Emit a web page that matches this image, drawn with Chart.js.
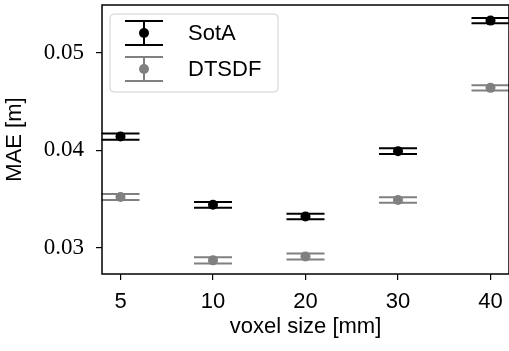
<!DOCTYPE html>
<html>
<head>
<meta charset="utf-8">
<script src="https://cdn.jsdelivr.net/npm/chart.js@4.4.1/dist/chart.umd.min.js"></script>
<style>
    html, body { margin: 0; padding: 0; background: #fff; overflow: hidden; }
    #wrap { width: 514px; height: 351px; }
</style>
</head>
<body>
<div id="wrap"><canvas id="maeChart" width="514" height="351"></canvas></div>
<script>
// voxel sizes on the x axis
const voxelSizes = ["5", "10", "20", "30", "40"];
const yTicks = [0.03, 0.04, 0.05];

// mean absolute error per voxel size
const sotaMae = [0.0414, 0.0344, 0.0332, 0.0399, 0.0533];
const sotaErr = [0.00032, 0.0003, 0.00028, 0.0003, 0.00026];
const dtsdfMae = [0.0352, 0.0287, 0.0291, 0.0349, 0.0464];
const dtsdfErr = [0.0003, 0.00032, 0.0003, 0.00028, 0.00026];

const SOTA_COLOR = "#000000";
const DTSDF_COLOR = "#808080";
const SANS = "'Liberation Sans'";

// error bars + caps, drawn under the markers
const errorBars = {
    id: "errorBars",
    beforeDatasetsDraw(chart) {
        const ctx = chart.ctx;
        const xs = chart.scales.x, ys = chart.scales.y;
        chart.data.datasets.forEach(ds => {
            ctx.save();
            ctx.strokeStyle = ds.borderColor;
            ctx.lineWidth = 2;
            ds.data.forEach((p, i) => {
                const x = xs.getPixelForValue(p.x);
                const yHi = ys.getPixelForValue(p.y + ds.errors[i]);
                const yLo = ys.getPixelForValue(p.y - ds.errors[i]);
                ctx.beginPath();
                ctx.moveTo(x, yHi); ctx.lineTo(x, yLo);
                ctx.moveTo(x - 19, yHi); ctx.lineTo(x + 19, yHi);
                ctx.moveTo(x - 19, yLo); ctx.lineTo(x + 19, yLo);
                ctx.stroke();
            });
            ctx.restore();
        });
    },
    afterDraw(chart) {
        const ctx = chart.ctx;
        const a = chart.chartArea;
        ctx.save();
        // spines
        ctx.strokeStyle = "#000";
        ctx.lineWidth = 1.5;
        ctx.strokeRect(a.left, a.top, a.right - a.left, a.bottom - a.top);

        // legend box
        const bx = 110, by = 14, bw = 168, bh = 78, r = 4;
        ctx.beginPath();
        ctx.roundRect(bx, by, bw, bh, r);
        ctx.fillStyle = "rgba(255,255,255,0.8)";
        ctx.fill();
        ctx.strokeStyle = "#d0d0d0";
        ctx.lineWidth = 1;
        ctx.stroke();

        const items = [
            { label: "SotA", color: SOTA_COLOR, y: 33 },
            { label: "DTSDF", color: DTSDF_COLOR, y: 69 }
        ];
        items.forEach(it => {
            const cx = 144;
            ctx.strokeStyle = it.color;
            ctx.lineWidth = 2;
            ctx.beginPath();
            ctx.moveTo(cx, it.y - 12); ctx.lineTo(cx, it.y + 12);
            ctx.moveTo(cx - 19, it.y - 12); ctx.lineTo(cx + 19, it.y - 12);
            ctx.moveTo(cx - 19, it.y + 12); ctx.lineTo(cx + 19, it.y + 12);
            ctx.stroke();
            ctx.beginPath();
            ctx.arc(cx, it.y, 5, 0, Math.PI * 2);
            ctx.fillStyle = it.color;
            ctx.fill();
            ctx.fillStyle = "#000";
            ctx.font = "22px " + SANS;
            ctx.textBaseline = "middle";
            ctx.fillText(it.label, 188, it.y + 1);
        });
        ctx.restore();
    }
};

const makeData = (vals) => vals.map((v, i) => ({ x: i, y: v }));

new Chart(document.getElementById("maeChart"), {
    type: "scatter",
    data: {
        datasets: [
            {
                label: "SotA",
                data: makeData(sotaMae),
                errors: sotaErr,
                backgroundColor: SOTA_COLOR,
                borderColor: SOTA_COLOR,
                pointRadius: 5,
                pointBorderWidth: 0
            },
            {
                label: "DTSDF",
                data: makeData(dtsdfMae),
                errors: dtsdfErr,
                backgroundColor: DTSDF_COLOR,
                borderColor: DTSDF_COLOR,
                pointRadius: 5,
                pointBorderWidth: 0
            }
        ]
    },
    options: {
        responsive: false,
        animation: false,
        layout: { padding: { top: 3, right: 2, left: 0, bottom: 0 } },
        plugins: {
            legend: { display: false },
            tooltip: { enabled: false }
        },
        scales: {
            x: {
                type: "linear",
                min: -0.2,
                max: 4.2,
                afterBuildTicks: s => { s.ticks = voxelSizes.map((_, i) => ({ value: i })); },
                afterFit: s => { s.height = 77; s.paddingLeft = 0; s.paddingRight = 0; },
                border: { display: false },
                grid: { drawOnChartArea: false, drawTicks: true, tickLength: 6, color: "#000", lineWidth: 1.2 },
                ticks: {
                    color: "#000",
                    padding: 9,
                    font: { family: SANS, size: 22 },
                    callback: v => voxelSizes[v]
                },
                title: {
                    display: true,
                    text: "voxel size [mm]",
                    color: "#000",
                    font: { family: SANS, size: 22 },
                    padding: { top: 0, bottom: 11 }
                }
            },
            y: {
                min: 0.0273,
                max: 0.0549,
                afterBuildTicks: s => { s.ticks = yTicks.map(v => ({ value: v })); },
                afterFit: s => { s.width = 102; s.paddingTop = 0; s.paddingBottom = 0; },
                border: { display: false },
                grid: { drawOnChartArea: false, drawTicks: true, tickLength: 6, color: "#000", lineWidth: 1.2 },
                ticks: {
                    color: "#000",
                    padding: 12,
                    font: { family: "'Liberation Serif'", size: 23 },
                    callback: v => v.toFixed(2)
                },
                title: {
                    display: true,
                    text: "MAE [m]",
                    color: "#000",
                    font: { family: SANS, size: 22 },
                    padding: { top: 2, bottom: 0 }
                }
            }
        }
    },
    plugins: [errorBars]
});
</script>
</body>
</html>
